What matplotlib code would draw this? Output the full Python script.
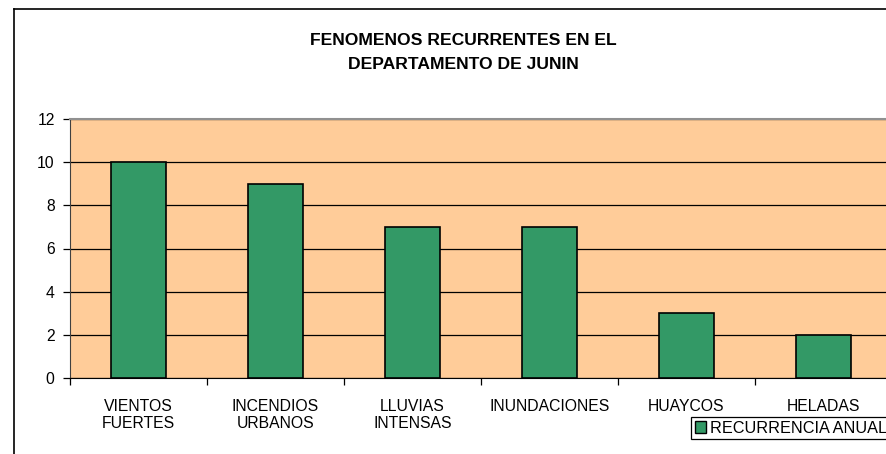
import matplotlib
matplotlib.use("Agg")
import matplotlib.pyplot as plt
from matplotlib.lines import Line2D
from matplotlib.patches import Patch

categories = ["VIENTOS\nFUERTES", "INCENDIOS\nURBANOS", "LLUVIAS\nINTENSAS",
              "INUNDACIONES", "HUAYCOS", "HELADAS"]
values = [10, 9, 7, 7, 3, 2]
series_name = "RECURRENCIA ANUAL"
title = "FENOMENOS RECURRENTES EN EL\nDEPARTAMENTO DE JUNIN"
yticks = [0, 2, 4, 6, 8, 10, 12]

plt.rcParams['font.family'] = ['Liberation Sans', 'DejaVu Sans']

W, H = 886, 454
fig = plt.figure(figsize=(W / 100, H / 100), dpi=100)
fig.patch.set_facecolor("white")

# chart frame
fig.add_artist(Line2D([14 / W, 1.01], [1 - 9 / H, 1 - 9 / H], color="black", lw=1.2,
                      transform=fig.transFigure))
fig.add_artist(Line2D([14 / W, 14 / W], [1 - 9 / H, -0.01], color="black", lw=1.2,
                      transform=fig.transFigure))

ax = fig.add_axes([70 / W, (H - 378) / H, 822 / W, 259 / H])
ax.set_facecolor("#FFCC99")
x = list(range(len(categories)))
ax.set_axisbelow(True)
ax.yaxis.grid(True, color="black", lw=0.9)
ax.bar(x, values, width=0.4, color="#339966", edgecolor="black", lw=1.2,
       label=series_name, zorder=3)
ax.set_xlim(-0.5, len(categories) - 0.5)
ax.set_ylim(0, 12)
ax.set_yticks(yticks)
ax.set_yticklabels([str(v) for v in yticks], fontsize=11.3)
ax.set_xticks(x)
ax.set_xticklabels(categories, fontsize=11.3, linespacing=1.15)
ax.set_xticks([i - 0.5 for i in range(len(categories) + 1)], minor=True)
ax.tick_params(axis="x", which="major", length=0, pad=15)
ax.tick_params(axis="x", which="minor", length=5, color="black", width=0.9)
ax.tick_params(axis="y", length=5, color="black", width=0.9, pad=6)
for s in ["top", "right"]:
    ax.spines[s].set_visible(False)
ax.spines["left"].set_color("#404040")
ax.spines["bottom"].set_color("black")
ax.axhline(12, color="#909090", lw=1.5, zorder=4, clip_on=False)

fig.text(463 / W, 1 - 52.5 / H, title, ha="center", va="center",
         fontsize=12.6, fontweight="bold", linespacing=1.7)

leg = fig.legend(handles=[Patch(facecolor="#339966", edgecolor="black", label=series_name)],
                 loc="upper left", bbox_to_anchor=(691 / W, 1 - 417 / H),
                 fontsize=11.7, frameon=True, fancybox=False, framealpha=1,
                 edgecolor="black", handlelength=0.7, handleheight=0.7,
                 handletextpad=0.25, borderpad=0.22, borderaxespad=0)
leg.get_frame().set_linewidth(0.9)

fig.savefig("out.png", dpi=100)
